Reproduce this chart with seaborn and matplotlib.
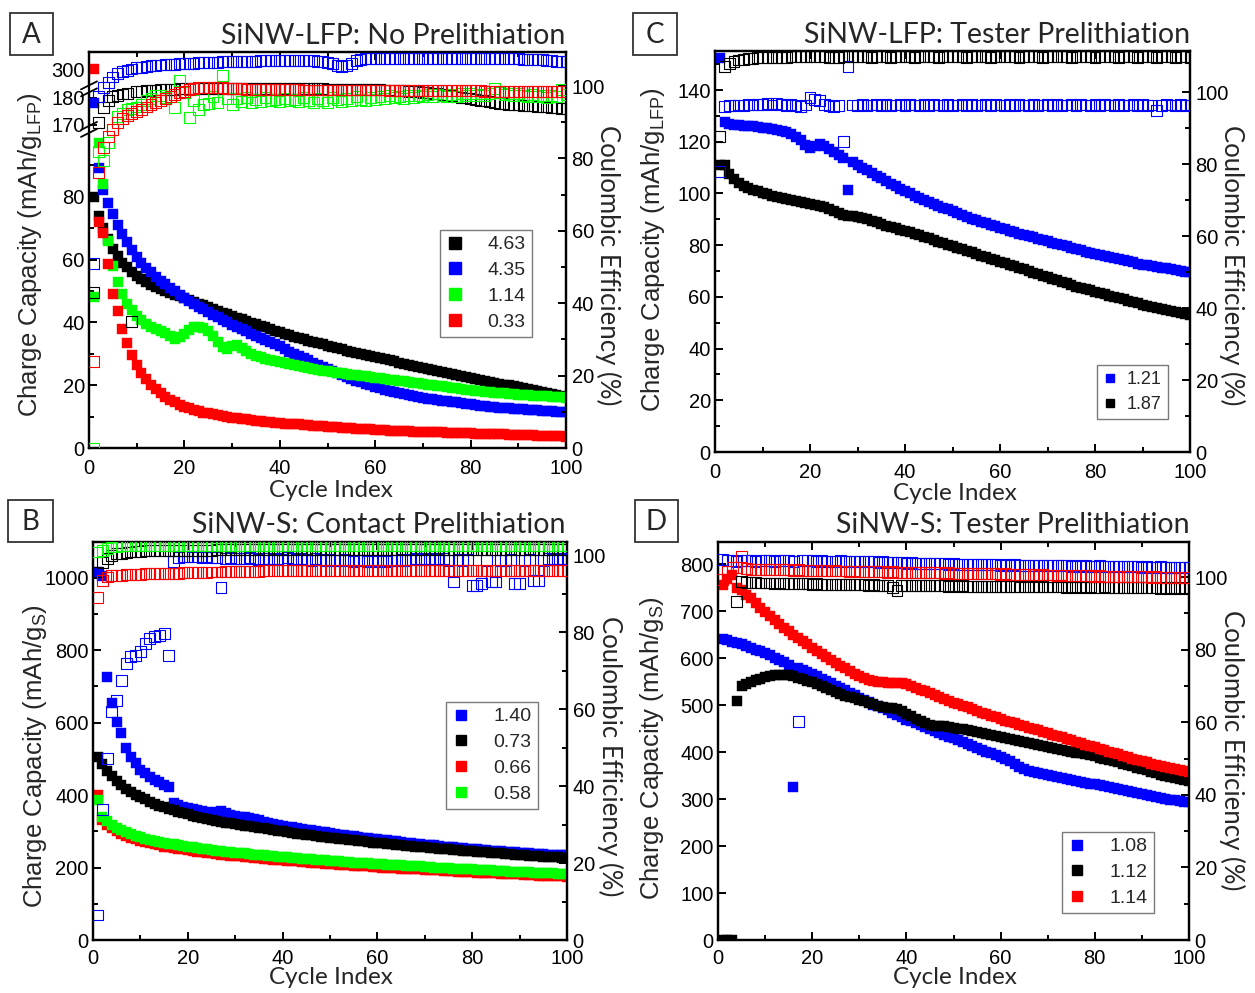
import numpy as np
import matplotlib
matplotlib.use("Agg")
import matplotlib.pyplot as plt
from matplotlib.lines import Line2D
from matplotlib.patches import Rectangle
from matplotlib.ticker import FixedLocator, FormatStrFormatter
import seaborn as sns

# ------------------------------------------------------------------ data
cycle_major = [0, 20, 40, 60, 80, 100]
cycle_minor = [10, 30, 50, 70, 90]

# Panel A: SiNW-LFP, no prelithiation (capacity in mAh/g_LFP, CE in %)
a_labels = ["4.63", "4.35", "1.14", "0.33"]
a_cap_463 = [
    80, 74, 70, 66.5, 63.5, 61, 59, 57.5, 56, 54.8,
    53.8, 52.9, 52.0, 51.2, 50.5, 49.9, 49.3, 48.8, 48.3, 47.8,
    47.2, 46.6, 46.0, 45.4, 44.8, 44.2, 43.6, 43.1, 42.6, 42.1,
    41.5, 41.0, 40.4, 39.9, 39.4, 38.9, 38.4, 37.9, 37.4, 36.9,
    36.4, 35.9, 35.4, 35.0, 34.6, 34.2, 33.8, 33.4, 33.0, 32.6,
    32.2, 31.8, 31.4, 31.0, 30.6, 30.3, 29.9, 29.6, 29.3, 29.0,
    28.6, 28.3, 27.9, 27.6, 27.2, 26.9, 26.5, 26.2, 25.8, 25.5,
    25.1, 24.8, 24.4, 24.1, 23.8, 23.5, 23.2, 22.9, 22.6, 22.3,
    22.0, 21.7, 21.4, 21.1, 20.8, 20.5, 20.2, 19.9, 19.6, 19.3,
    19.0, 18.7, 18.4, 18.1, 17.8, 17.5, 17.2, 16.9, 16.6, 16.3]
a_cap_435 = [
    178, 89, 82, 78, 74.5, 71, 68, 65.5, 63, 60.8,
    59.0, 57.4, 56.0, 54.6, 53.3, 52.1, 51.0, 49.9, 48.8, 47.8,
    46.8, 45.9, 45.0, 44.1, 43.2, 42.4, 41.6, 40.8, 40.0, 39.2,
    38.5, 37.8, 37.1, 36.4, 35.7, 35.0, 34.4, 33.8, 33.2, 32.6,
    31.4, 30.7, 30.0, 29.3, 28.6, 27.9, 27.2, 26.5, 25.8, 25.1,
    24.5, 23.8, 23.2, 22.6, 22.0, 21.4, 20.9, 20.4, 19.9, 19.4,
    19.0, 18.6, 18.2, 17.8, 17.5, 17.2, 16.9, 16.6, 16.3, 16.0,
    15.7, 15.5, 15.3, 15.1, 14.9, 14.7, 14.5, 14.3, 14.1, 13.9,
    13.7, 13.5, 13.3, 13.1, 12.9, 12.8, 12.7, 12.6, 12.5, 12.4,
    12.3, 12.2, 12.1, 12.0, 11.9, 11.8, 11.7, 11.6, 11.5, 11.4]
a_cap_114 = [
    48, 97, 84, 66, 58, 53, 49, 46, 43.8, 42,
    40.7, 39.6, 38.6, 37.8, 37.2, 36.6, 35.8, 34.8, 35.2, 36.4,
    37.6, 38.4, 38.6, 38.2, 37.2, 35.6, 33.8, 32.2, 31.4, 32.6,
    32.8, 31.8, 30.8, 30.0, 29.4, 28.9, 28.4, 28.0, 27.6, 27.3,
    27.0, 26.7, 26.4, 26.1, 25.8, 25.5, 25.2, 24.9, 24.6, 24.4,
    24.2, 24.0, 23.8, 23.6, 23.4, 23.2, 23.0, 22.8, 22.6, 22.4,
    22.2, 22.0, 21.8, 21.6, 21.4, 21.2, 21.0, 20.8, 20.6, 20.4,
    20.2, 20.0, 19.8, 19.6, 19.4, 19.2, 19.0, 18.8, 18.6, 18.4,
    18.2, 18.0, 17.9, 17.8, 17.6, 17.5, 17.4, 17.2, 17.1, 17.0,
    16.9, 16.8, 16.7, 16.6, 16.5, 16.4, 16.3, 16.2, 16.1, 16.0]
a_cap_033 = [
    300, 72, 68.5, 58.5, 49, 43.5, 38, 33.5, 29.5, 26.5,
    24.0, 22.0, 20.2, 18.7, 17.4, 16.3, 15.3, 14.5, 13.8, 13.2,
    12.6, 12.1, 11.7, 11.3, 11.0, 10.7, 10.4, 10.1, 9.9, 9.7,
    9.5, 9.3, 9.1, 8.9, 8.7, 8.5, 8.4, 8.2, 8.1, 8.0,
    7.8, 7.7, 7.6, 7.5, 7.3, 7.2, 7.1, 7.0, 6.9, 6.8,
    6.7, 6.6, 6.5, 6.4, 6.3, 6.2, 6.1, 6.0, 5.9, 5.8,
    5.7, 5.6, 5.5, 5.45, 5.4, 5.35, 5.3, 5.25, 5.2, 5.15,
    5.1, 5.05, 5.0, 4.95, 4.9, 4.85, 4.8, 4.75, 4.7, 4.65,
    4.6, 4.55, 4.5, 4.45, 4.4, 4.35, 4.3, 4.25, 4.2, 4.15,
    4.1, 4.05, 4.0, 3.95, 3.9, 3.85, 3.8, 3.75, 3.7, 3.65]
a_ce_463 = [
    43, 90, 94, 96, 97, 97.5, 97.8, 98, 35, 98.4,
    98.6, 98.7, 98.8, 98.9, 99.0, 99.0, 99.1, 99.1, 99.2, 99.2,
    99.2, 99.3, 99.3, 99.3, 99.3, 99.3, 99.3, 99.3, 99.3, 99.3,
    99.3, 99.3, 99.3, 99.3, 99.3, 99.3, 99.3, 99.3, 99.3, 99.3,
    99.3, 99.3, 99.2, 99.2, 99.2, 99.2, 99.2, 99.2, 99.2, 99.1,
    99.1, 99.1, 99.1, 99.1, 99.1, 99.0, 99.0, 99.0, 99.0, 99.0,
    99.0, 98.9, 98.9, 98.8, 98.8, 98.7, 98.6, 98.5, 98.4, 98.3,
    98.2, 98.0, 97.9, 97.7, 97.5, 97.3, 97.1, 96.9, 96.7, 96.5,
    96.3, 96.1, 95.9, 95.7, 95.5, 95.3, 95.2, 95.0, 94.9, 94.8,
    94.7, 94.6, 94.5, 94.4, 94.3, 94.2, 94.1, 94.0, 93.9, 93.8]
a_ce_435 = [
    51, 97, 99.5, 101, 102.5, 103.5, 104, 104.4, 104.7, 105,
    105.2, 105.4, 105.6, 105.7, 105.8, 105.9, 106.0, 106.0, 106.1, 106.1,
    106.2, 106.3, 106.4, 106.5, 106.5, 106.6, 106.6, 106.7, 106.7, 106.8,
    106.8, 106.8, 106.9, 106.9, 106.9, 107.0, 107.0, 107.0, 107.0, 107.0,
    107.0, 107.0, 107.0, 107.0, 107.0, 107.0, 107.0, 106.9, 106.8, 106.5,
    106.1, 105.7, 105.5, 105.6, 106.2, 107.0, 107.4, 107.5, 107.6, 107.6,
    107.6, 107.6, 107.6, 107.6, 107.6, 107.6, 107.6, 107.6, 107.6, 107.6,
    107.6, 107.6, 107.6, 107.6, 107.6, 107.6, 107.6, 107.6, 107.6, 107.6,
    107.6, 107.6, 107.6, 107.5, 107.5, 107.5, 107.5, 107.5, 107.5, 107.5,
    107.4, 107.4, 107.3, 107.3, 107.2, 107.1, 107.0, 106.9, 106.8, 106.7]
a_ce_114 = [
    0, 82, 79.5, 84.5, 88, 91.5, 92.5, 93.4, 93.8, 94.2,
    95.0, 96.0, 96.5, 97.3, 97.5, 96.8, 97.0, 94.0, 101.6, 98.3,
    91.4, 96.0, 93.4, 95.0, 95.3, 97.0, 95.5, 103.0, 96.5, 95.0,
    96.5, 95.8, 96.8, 95.5, 96.2, 95.6, 96.9, 95.9, 96.4, 95.7,
    96.6, 95.9, 96.3, 95.6, 96.8, 96.0, 95.4, 96.5, 96.1, 95.5,
    96.9, 96.2, 95.8, 96.6, 96.0, 97.1, 96.4, 95.9, 96.8, 96.3,
    97.0, 96.5, 97.3, 96.8, 97.2, 96.6, 97.5, 96.9, 97.4, 97.0,
    97.6, 97.1, 97.8, 97.3, 97.0, 97.7, 97.2, 97.9, 97.4, 98.0,
    97.5, 97.8, 97.3, 97.9, 99.4, 98.2, 97.6, 98.0, 97.4, 97.9,
    97.5, 97.1, 97.6, 97.0, 97.4, 96.9, 97.3, 97.0, 99.0, 97.6]
a_ce_033 = [
    24, 76, 83, 86, 88, 90, 91, 91.8, 92.5, 93,
    93.6, 94.2, 94.8, 95.4, 96.0, 96.6, 97.2, 97.7, 98.2, 98.6,
    99.0, 99.3, 99.5, 99.6, 99.7, 99.7, 99.6, 99.5, 99.4, 99.3,
    99.2, 99.2, 99.1, 99.1, 99.1, 99.1, 99.0, 99.0, 99.0, 99.0,
    99.0, 99.0, 99.0, 99.0, 98.9, 98.9, 98.9, 98.9, 98.9, 98.9,
    98.9, 98.9, 98.9, 98.9, 98.9, 98.9, 98.9, 98.9, 98.9, 98.9,
    98.9, 98.9, 98.8, 98.8, 98.8, 98.8, 98.8, 98.8, 98.8, 98.8,
    98.8, 98.8, 98.8, 98.7, 98.7, 98.7, 98.7, 98.7, 98.7, 98.7,
    98.7, 98.7, 98.6, 98.6, 98.6, 98.6, 98.6, 98.6, 98.6, 98.6,
    98.6, 98.5, 98.5, 98.5, 98.5, 98.5, 98.5, 98.5, 98.5, 98.5]

# Panel B: SiNW-S, contact prelithiation (capacity in mAh/g_S)
b_labels = ["1.40", "0.73", "0.66", "0.58"]
b_cap_140 = [
    1017, 1005, 727, 655, 603, 571, 530, 505, 488, 470,
    460, 451, 443, 436, 429, 423, 377, 372, 368, 365,
    362, 359, 356, 354, 351, 354, 356, 350, 345, 342,
    340, 339, 337, 333, 330, 327, 324, 321, 318, 316,
    313, 311, 309, 307, 305, 303, 301, 299, 297, 295,
    293, 291, 289, 288, 286, 284, 282, 281, 279, 278,
    276, 275, 273, 272, 270, 269, 267, 266, 264, 263,
    262, 261, 259, 258, 257, 256, 254, 253, 252, 251,
    250, 249, 248, 247, 246, 245, 244, 243, 242, 241,
    240, 239, 238, 238, 237, 236, 236, 235, 235, 234]
b_cap_073 = [
    506, 485, 467, 452, 440, 428, 418, 409, 401, 394,
    388, 382, 376, 371, 366, 362, 358, 354, 350, 347,
    343, 340, 337, 334, 331, 329, 326, 324, 322, 320,
    318, 316, 314, 312, 310, 308, 306, 304, 302, 300,
    298, 296, 294, 292, 290, 289, 287, 285, 284, 282,
    281, 279, 278, 276, 275, 273, 272, 271, 269, 268,
    267, 265, 264, 263, 262, 260, 259, 258, 257, 256,
    255, 254, 252, 251, 250, 249, 248, 247, 246, 245,
    244, 243, 242, 241, 240, 239, 238, 237, 236, 235,
    234, 233, 232, 231, 230, 229, 228, 228, 227, 226]
b_cap_066 = [
    400, 332, 318, 308, 300, 293, 287, 282, 278, 274,
    270, 267, 264, 261, 258, 256, 254, 252, 250, 248,
    246, 244, 242, 241, 239, 238, 236, 235, 233, 232,
    231, 229, 228, 227, 226, 225, 224, 222, 221, 220,
    219, 218, 217, 216, 215, 214, 213, 212, 211, 210,
    209, 208, 207, 206, 205, 205, 204, 203, 202, 201,
    200, 200, 199, 198, 197, 197, 196, 195, 195, 194,
    193, 192, 192, 191, 190, 190, 189, 188, 188, 187,
    186, 186, 185, 184, 184, 183, 183, 182, 181, 181,
    180, 180, 179, 178, 178, 177, 177, 176, 176, 175]
b_cap_058 = [
    387, 340, 328, 318, 310, 303, 297, 292, 288, 284,
    280, 277, 274, 271, 268, 266, 264, 262, 260, 258,
    256, 254, 252, 250, 249, 247, 246, 244, 243, 241,
    240, 239, 237, 236, 235, 234, 233, 231, 230, 229,
    228, 227, 226, 225, 224, 223, 222, 221, 220, 219,
    218, 217, 216, 215, 214, 213, 212, 212, 211, 210,
    209, 208, 207, 207, 206, 205, 204, 203, 203, 202,
    201, 200, 200, 199, 198, 197, 197, 196, 195, 195,
    194, 193, 193, 192, 191, 191, 190, 189, 189, 188,
    187, 187, 186, 186, 185, 184, 184, 183, 183, 182]
b_ce_140 = [
    6.5, 33.8, 47.2, 59.3, 62.3, 67.5, 71.9, 73.6, 74.0, 74.9,
    77.1, 78.4, 78.8, 79.2, 79.7, 74.0, 98.3, 99.3, 99.6, 99.6,
    99.5, 99.6, 99.4, 99.5, 99.3, 99.4, 91.7, 99.2, 99.3, 99.1,
    99.2, 99.0, 99.3, 99.1, 98.9, 99.2, 99.0, 98.8, 99.1, 98.9,
    99.3, 99.0, 98.8, 99.1, 98.9, 98.7, 99.0, 98.8, 98.6, 98.9,
    98.7, 98.5, 98.8, 98.6, 98.4, 98.7, 98.5, 98.3, 98.6, 98.4,
    98.6, 98.4, 98.7, 98.5, 98.8, 98.6, 98.9, 99.1, 98.8, 99.0,
    98.8, 99.1, 98.9, 99.0, 98.7, 93.0, 98.9, 98.6, 98.8, 92.2,
    92.2, 92.7, 98.5, 93.1, 93.0, 98.7, 98.5, 98.8, 92.7, 92.5,
    98.6, 98.8, 93.5, 93.3, 98.7, 99.0, 98.8, 99.1, 98.9, 99.0]
b_ce_073 = [
    95.6, 98.0, 99.2, 100.0, 100.3, 100.5, 100.7, 100.8, 100.9, 101.0,
    101.1, 101.1, 101.2, 101.2, 101.2, 101.3, 101.3, 101.3, 101.3, 101.3,
    101.3, 101.3, 101.3, 101.3, 101.3, 101.4, 101.4, 101.4, 101.4, 101.4,
    101.4, 101.4, 101.4, 101.4, 101.4, 101.4, 101.4, 101.4, 101.4, 101.4,
    101.4, 101.4, 101.4, 101.4, 101.4, 101.4, 101.4, 101.4, 101.4, 101.4,
    101.4, 101.4, 101.4, 101.4, 101.4, 101.4, 101.4, 101.4, 101.4, 101.4,
    101.4, 101.4, 101.4, 101.4, 101.4, 101.4, 101.4, 101.4, 101.4, 101.4,
    101.4, 101.4, 101.4, 101.4, 101.4, 101.4, 101.4, 101.4, 101.4, 101.4,
    101.4, 101.4, 101.4, 101.4, 101.4, 101.4, 101.4, 101.4, 101.4, 101.4,
    101.4, 101.4, 101.4, 101.4, 101.4, 101.4, 101.4, 101.4, 101.4, 101.4]
b_ce_066 = [
    89.0, 93.5, 94.3, 94.6, 94.8, 94.8, 94.9, 94.9, 95.0, 95.0,
    95.1, 95.1, 95.2, 95.2, 95.2, 95.3, 95.3, 95.3, 95.4, 95.4,
    95.4, 95.5, 95.5, 95.5, 95.6, 95.6, 95.6, 95.7, 95.7, 95.7,
    95.8, 95.8, 95.8, 95.8, 95.8, 95.9, 95.9, 95.9, 95.9, 95.9,
    95.9, 95.9, 96.0, 96.0, 96.0, 96.0, 96.0, 96.0, 96.0, 96.0,
    96.0, 96.0, 96.0, 96.0, 96.0, 96.0, 96.0, 96.0, 96.0, 96.0,
    96.0, 96.0, 96.0, 96.0, 96.0, 96.0, 96.0, 96.0, 96.0, 96.0,
    96.0, 96.0, 96.0, 96.0, 96.0, 96.0, 96.0, 96.0, 96.0, 96.0,
    96.0, 96.0, 96.0, 96.0, 96.0, 96.0, 96.0, 96.0, 96.0, 96.0,
    96.0, 96.0, 96.0, 96.0, 96.0, 96.0, 96.0, 96.0, 96.0, 96.0]
b_ce_058 = [
    100.8, 101.3, 101.8, 102.1, 102.3, 102.4, 102.5, 102.5, 102.6, 102.6,
    102.6, 102.6, 102.6, 102.6, 102.6, 102.6, 102.6, 102.6, 102.6, 102.6,
    102.6, 102.6, 102.6, 102.6, 102.6, 102.6, 102.6, 102.6, 102.6, 102.6,
    102.6, 102.6, 102.6, 102.6, 102.6, 102.6, 102.6, 102.6, 102.6, 102.6,
    102.6, 102.6, 102.6, 102.6, 102.6, 102.6, 102.6, 102.6, 102.6, 102.6,
    102.6, 102.6, 102.6, 102.6, 102.6, 102.6, 102.6, 102.6, 102.6, 102.6,
    102.6, 102.6, 102.6, 102.6, 102.6, 102.6, 102.6, 102.6, 102.6, 102.6,
    102.6, 102.6, 102.6, 102.6, 102.6, 102.6, 102.6, 102.6, 102.6, 102.6,
    102.6, 102.6, 102.6, 102.6, 102.6, 102.6, 102.6, 102.6, 102.6, 102.6,
    102.6, 102.6, 102.6, 102.6, 102.6, 102.6, 102.6, 102.6, 102.6, 102.6]

# Panel C: SiNW-LFP, tester prelithiation
c_labels = ["1.21", "1.87"]
c_cap_121 = [
    152.5, 127.5, 126.8, 126.6, 126.4, 126.2, 126.0, 125.9, 125.7, 125.5,
    125.3, 125.0, 124.7, 124.3, 123.8, 123.0, 122.0, 120.6, 118.8, 117.5,
    118.3, 119.0, 118.2, 117.2, 116.0, 114.8, 113.8, 101.4, 112.0, 111.0,
    110.0, 109.0, 107.8, 106.8, 105.8, 104.8, 103.8, 102.8, 101.9, 101.0,
    100.1, 99.2, 98.4, 97.6, 96.8, 96.0, 95.2, 94.5, 93.8, 93.1,
    92.4, 91.7, 91.0, 90.3, 89.7, 89.1, 88.5, 87.9, 87.3, 86.7,
    86.1, 85.5, 85.0, 84.5, 84.0, 83.5, 83.0, 82.5, 82.0, 81.5,
    81.0, 80.5, 80.0, 79.5, 79.0, 78.5, 78.0, 77.5, 77.0, 76.5,
    76.1, 75.7, 75.3, 74.9, 74.5, 74.1, 73.7, 73.3, 72.9, 72.5,
    72.2, 71.9, 71.6, 71.3, 71.0, 70.7, 70.4, 70.1, 69.8, 69.5]
c_cap_187 = [
    111.0, 111.0, 107.5, 105.5, 104.0, 103.0, 102.2, 101.5, 100.8, 100.2,
    99.7, 99.2, 98.8, 98.4, 98.0, 97.6, 97.2, 96.8, 96.4, 96.0,
    95.6, 95.2, 94.6, 94.0, 93.2, 92.4, 91.8, 91.4, 91.2, 91.0,
    90.5, 90.0, 89.4, 88.8, 88.2, 87.6, 87.0, 86.5, 86.0, 85.5,
    85.0, 84.4, 83.8, 83.2, 82.6, 82.0, 81.4, 80.8, 80.2, 79.6,
    79.0, 78.4, 77.8, 77.2, 76.6, 76.0, 75.4, 74.8, 74.2, 73.6,
    73.0, 72.4, 71.8, 71.2, 70.6, 70.0, 69.4, 68.8, 68.2, 67.6,
    67.0, 66.4, 65.8, 65.2, 64.6, 64.0, 63.5, 63.0, 62.5, 62.0,
    61.5, 61.0, 60.5, 60.0, 59.5, 59.0, 58.5, 58.0, 57.5, 57.0,
    56.6, 56.2, 55.8, 55.4, 55.0, 54.6, 54.2, 53.8, 53.4, 53.0]
c_ce_121 = [
    77.8, 96.0, 96.2, 96.3, 96.4, 96.3, 96.5, 96.4, 96.6, 96.5,
    96.7, 96.4, 96.8, 96.5, 96.3, 96.6, 96.2, 95.9, 96.4, 98.6,
    97.8, 97.6, 96.5, 96.2, 96.0, 96.3, 86.2, 107.0, 96.4, 96.3,
    96.5, 96.2, 96.4, 96.6, 96.3, 96.5, 96.2, 96.4, 96.5, 96.3,
    96.6, 96.4, 96.2, 96.5, 96.3, 96.6, 96.4, 96.2, 96.5, 96.3,
    96.4, 96.6, 96.3, 96.5, 96.2, 96.4, 96.6, 96.3, 96.5, 96.4,
    96.2, 96.5, 96.3, 96.6, 96.4, 96.2, 96.5, 96.3, 96.4, 96.6,
    96.3, 96.5, 96.2, 96.4, 96.6, 96.3, 96.5, 96.4, 96.2, 96.5,
    96.3, 96.6, 96.4, 96.2, 96.5, 96.3, 96.4, 96.6, 96.3, 96.5,
    96.2, 96.4, 95.0, 96.3, 96.5, 96.4, 96.2, 96.5, 96.3, 96.4]
c_ce_187 = [
    87.6, 107.0, 108.0, 108.5, 108.9, 109.1, 109.3, 109.4, 109.5, 109.6,
    109.6, 109.7, 109.7, 109.7, 109.7, 109.8, 109.8, 109.8, 109.8, 109.8,
    109.9, 109.9, 109.8, 109.7, 109.6, 109.7, 109.8, 109.8, 109.8, 109.8,
    109.8, 109.8, 109.7, 109.8, 109.8, 109.8, 109.7, 109.8, 109.8, 109.8,
    109.8, 109.7, 109.8, 109.8, 109.8, 109.8, 109.7, 109.8, 109.8, 109.8,
    109.8, 109.8, 109.7, 109.8, 109.8, 109.8, 109.8, 109.7, 109.8, 109.8,
    109.8, 109.8, 109.8, 109.7, 109.8, 109.8, 109.8, 109.8, 109.7, 109.8,
    109.8, 109.8, 109.8, 109.8, 109.7, 109.8, 109.8, 109.8, 109.8, 109.7,
    109.8, 109.8, 109.8, 109.8, 109.7, 109.8, 109.8, 109.8, 109.7, 109.8,
    109.8, 109.8, 109.7, 109.8, 109.8, 109.8, 109.7, 109.8, 109.8, 109.7]

# Panel D: SiNW-S, tester prelithiation
d_labels = ["1.08", "1.12", "1.14"]
d_cap_108 = [
    640, 638, 635, 632, 629, 626, 622, 618, 614, 610,
    606, 601, 596, 591, 586, 325, 578, 574, 570, 566,
    561, 556, 551, 546, 541, 536, 531, 526, 521, 516,
    511, 506, 501, 497, 493, 489, 484, 479, 474, 469,
    465, 461, 457, 453, 449, 445, 441, 437, 433, 429,
    425, 421, 417, 413, 409, 405, 401, 397, 393, 389,
    385, 380, 375, 369, 364, 360, 357, 355, 353, 351,
    349, 347, 345, 343, 341, 339, 337, 335, 333, 331,
    329, 327, 325, 323, 321, 319, 317, 315, 313, 311,
    309, 307, 305, 303, 301, 299, 297, 295, 294, 293]
d_cap_112 = [
    0, 0, 0, 508, 541, 545, 549, 553, 556, 559,
    561, 563, 564, 564, 563, 561, 558, 555, 552, 548,
    544, 540, 536, 532, 528, 524, 520, 517, 514, 511,
    508, 505, 502, 499, 496, 494, 493, 492, 488, 482,
    476, 471, 466, 462, 458, 456, 455, 455, 454, 452,
    450, 448, 446, 444, 442, 440, 438, 436, 434, 432,
    430, 428, 426, 424, 421, 419, 417, 415, 413, 411,
    409, 407, 405, 403, 401, 399, 397, 395, 393, 391,
    388, 386, 383, 381, 378, 375, 372, 370, 367, 364,
    361, 358, 355, 352, 350, 347, 345, 342, 340, 338]
d_cap_114 = [
    756, 768, 776, 750, 745, 735, 727, 718, 707, 698,
    690, 681, 673, 665, 657, 650, 643, 636, 629, 622,
    615, 608, 602, 596, 590, 584, 578, 572, 566, 561,
    557, 554, 551, 549, 548, 547, 547, 546, 546, 545,
    541, 537, 533, 529, 525, 521, 517, 513, 509, 505,
    502, 498, 495, 491, 488, 484, 481, 477, 474, 470,
    467, 464, 461, 458, 455, 452, 449, 446, 443, 440,
    437, 434, 431, 428, 425, 422, 419, 416, 413, 410,
    407, 404, 401, 398, 395, 392, 389, 386, 383, 380,
    378, 375, 373, 370, 368, 366, 364, 362, 360, 358]
d_ce_108 = [
    104.8, 104.5, 104.5, 104.4, 104.5, 104.6, 104.5, 104.4, 104.5, 104.6,
    104.5, 104.4, 104.5, 104.6, 104.5, 104.4, 60.1, 104.5, 104.6, 104.5,
    104.4, 104.5, 104.4, 104.3, 104.4, 104.5, 104.4, 104.3, 104.4, 104.3,
    104.2, 104.3, 104.2, 104.1, 104.2, 104.1, 104.0, 104.1, 104.0, 103.9,
    104.0, 103.9, 103.8, 103.9, 103.8, 103.7, 103.8, 103.7, 103.6, 103.7,
    103.6, 103.5, 103.6, 103.5, 103.4, 103.5, 103.4, 103.5, 103.4, 103.3,
    103.4, 103.3, 103.4, 103.3, 103.2, 103.3, 103.2, 103.3, 103.2, 103.1,
    103.2, 103.1, 103.2, 103.1, 103.0, 103.1, 103.0, 103.1, 103.0, 103.0,
    103.1, 103.0, 103.0, 102.9, 103.0, 102.9, 102.9, 103.0, 102.9, 102.8,
    102.9, 102.8, 102.8, 102.9, 102.8, 102.7, 102.8, 102.7, 102.7, 102.6]
d_ce_112 = [
    np.nan, np.nan, np.nan, 93.3, 98.9, 98.6, 98.5, 98.5, 98.4, 98.4,
    98.4, 98.3, 98.4, 98.3, 98.3, 98.2, 98.3, 98.2, 98.2, 98.1,
    98.2, 98.1, 98.1, 98.0, 98.1, 98.0, 98.0, 97.9, 98.0, 97.9,
    97.9, 97.8, 97.9, 97.8, 97.8, 97.7, 97.2, 96.4, 97.6, 97.8,
    97.7, 97.8, 97.7, 97.6, 97.7, 97.6, 97.7, 97.6, 97.5, 97.6,
    97.5, 97.6, 97.5, 97.4, 97.5, 97.4, 97.5, 97.4, 97.5, 97.4,
    97.4, 97.5, 97.4, 97.3, 97.4, 97.3, 97.4, 97.3, 97.4, 97.3,
    97.3, 97.4, 97.3, 97.2, 97.3, 97.2, 97.3, 97.2, 97.3, 97.2,
    97.2, 97.3, 97.2, 97.1, 97.2, 97.1, 97.2, 97.1, 97.2, 97.1,
    97.1, 97.2, 97.1, 97.0, 97.1, 97.0, 97.1, 97.0, 97.1, 97.0]
d_ce_114 = [
    99.3, 101.5, 102.8, 102.6, 105.7, 102.3, 102.2, 102.2, 102.1, 102.1,
    102.1, 102.0, 102.1, 102.0, 102.0, 101.9, 102.0, 101.9, 101.9, 101.8,
    101.9, 101.8, 101.8, 101.7, 101.8, 101.7, 101.7, 101.6, 101.7, 101.6,
    101.6, 101.5, 101.6, 101.5, 101.5, 101.4, 101.5, 101.4, 101.4, 101.3,
    101.4, 101.3, 101.3, 101.2, 101.3, 101.2, 101.2, 101.1, 101.2, 101.1,
    101.1, 101.0, 101.1, 101.0, 101.0, 100.9, 101.0, 100.9, 100.9, 100.8,
    100.9, 100.8, 100.8, 100.7, 100.8, 100.7, 100.7, 100.6, 100.7, 100.6,
    100.6, 100.5, 100.6, 100.5, 100.5, 100.4, 100.5, 100.4, 100.4, 100.3,
    100.4, 100.3, 100.3, 100.2, 100.3, 100.2, 100.2, 100.1, 100.2, 100.1,
    100.1, 100.0, 100.1, 100.0, 100.0, 99.9, 100.0, 99.9, 99.9, 99.8]

# ------------------------------------------------------------------ style
BLACK, BLUE, GREEN, RED = "#000000", "#0000ff", "#00ff00", "#ff0000"
SANS = ["Liberation Sans", "DejaVu Sans"]
HUMANIST = ["Lato", "DejaVu Sans"]

sns.set_theme(style="ticks")
plt.rcParams["font.family"] = SANS
plt.rcParams["mathtext.fontset"] = "custom"
plt.rcParams["mathtext.rm"] = "Liberation Sans"
plt.rcParams["mathtext.it"] = "Liberation Sans:italic"
plt.rcParams["axes.linewidth"] = 1.6

W, H = 1255, 993
fig = plt.figure(figsize=(W / 100, H / 100), dpi=100)
fig.patch.set_facecolor("white")

TICK_FS = 14.5


def axes_px(x0, y0, x1, y1):
    return fig.add_axes([x0 / W, 1 - y1 / H, (x1 - x0) / W, (y1 - y0) / H])


def fig_text(x, y, s, **kw):
    return fig.text(x / W, 1 - y / H, s, **kw)


def draw_series(ax, ax2, caps, ces, colors):
    for y, c in zip(caps, colors):
        x = np.arange(1, len(y) + 1)
        sns.scatterplot(x=x, y=np.asarray(y, float), ax=ax, marker="s", s=52,
                        color=c, edgecolor=c, linewidth=0.3, legend=False,
                        zorder=3)
    for y, c in zip(ces, colors):
        x = np.arange(1, len(y) + 1)
        sns.scatterplot(x=x, y=np.asarray(y, float), ax=ax2, marker="s", s=62,
                        color=c, facecolors="none", edgecolor=c,
                        linewidth=0.8, legend=False, zorder=3)


def style_axes(ax, ax2, ce_lim, xpad):
    ax.set_xlim(0, 100)
    ax.xaxis.set_major_locator(FixedLocator(cycle_major))
    ax.xaxis.set_minor_locator(FixedLocator(cycle_minor))
    ax.set_xlabel("")
    ax.set_ylabel("")
    ax2.set_ylabel("")
    ax2.set_ylim(*ce_lim)
    ax2.yaxis.set_major_locator(FixedLocator([0, 20, 40, 60, 80, 100]))
    ax2.yaxis.set_minor_locator(FixedLocator([10, 30, 50, 70, 90]))
    for a in (ax, ax2):
        for sp in a.spines.values():
            sp.set_linewidth(1.6)
            sp.set_color("black")
        a.tick_params(which="both", direction="in", width=1.4, colors="black",
                      labelsize=TICK_FS)
        a.tick_params(which="major", length=6)
        a.tick_params(which="minor", length=3.5)
    ax.tick_params(axis="x", which="both", top=True, bottom=True, pad=xpad)
    ax.tick_params(axis="y", which="both", left=True, right=False, pad=3)
    ax2.tick_params(axis="y", which="both", right=True, left=False, pad=4)
    ax2.tick_params(axis="x", which="both", top=False, bottom=False,
                    labelbottom=False)
    ax.grid(False)
    ax2.grid(False)


def add_legend(ax2, labels, colors, x0, y0, ms, fs, **kw):
    handles = [Line2D([], [], ls="none", marker="s", ms=ms, mfc=c, mec=c)
               for c in colors]
    opts = dict(loc="upper left", bbox_to_anchor=(x0 / W, 1 - y0 / H),
                bbox_transform=fig.transFigure, frameon=True, fancybox=False,
                edgecolor="#7a7a7a", framealpha=1, fontsize=fs,
                borderaxespad=0, handlelength=0.9, handletextpad=1.25,
                labelspacing=0.42, borderpad=0.3)
    opts.update(kw)
    leg = ax2.legend(handles, labels, **opts)
    leg.get_frame().set_linewidth(1.0)
    leg.set_zorder(10)
    return leg


def panel_letter(x0, y0, x1, y1, letter):
    fig.patches.append(Rectangle((x0 / W, 1 - y1 / H), (x1 - x0) / W,
                                 (y1 - y0) / H, transform=fig.transFigure,
                                 fill=False, ec="#333333", lw=1.3))
    fig_text((x0 + x1) / 2, (y0 + y1) / 2 + 1, letter, ha="center",
             va="center", fontsize=20, family=HUMANIST)


def labels_for(x_ylab, y_ylab, x_rlab, y_rlab, x_xlab, y_xlab, x_title,
               y_title, title, ylab):
    fig_text(x_ylab, y_ylab, ylab, rotation=90, ha="center", va="center",
             fontsize=18.5, family=SANS)
    fig_text(x_rlab, y_rlab, "Coulombic Efficiency (%)", rotation=270,
             ha="center", va="center", fontsize=18.5, family=HUMANIST)
    fig_text(x_xlab, y_xlab, "Cycle Index", ha="center", va="center",
             fontsize=17.5, family=HUMANIST)
    fig_text(x_title, y_title, title, ha="right", va="baseline",
             fontsize=20.5, family=HUMANIST)


# ------------------------------------------------------------------ panel A
# left axis broken into 0-100, 170-183 and ~293+ segments
BRK_V = np.array([-1000.0, 0.0, 100.0, 170.0, 183.0, 293.0, 1000.0])
BRK_U = np.array([-3140.0, 0.0, 314.0, 323.0, 358.1, 360.0, 360.0 + 707 * 2.7])


def brk_fwd(v):
    return np.interp(v, BRK_V, BRK_U)


def brk_inv(u):
    return np.interp(u, BRK_U, BRK_V)


axA = axes_px(89, 52, 566, 448)
axA2 = axA.twinx()
colA = [BLACK, BLUE, GREEN, RED]
axA.set_yscale("function", functions=(brk_fwd, brk_inv))
draw_series(axA, axA2, [a_cap_463, a_cap_435, a_cap_114, a_cap_033],
            [a_ce_463, a_ce_435, a_ce_114, a_ce_033], colA)
style_axes(axA, axA2, (0, 109.4), 8)
axA.set_ylim(0, 306.3)
axA.yaxis.set_major_locator(FixedLocator([0, 20, 40, 60, 80, 170, 180, 300]))
axA.yaxis.set_minor_locator(FixedLocator([10, 30, 50, 70, 90]))
axA.yaxis.set_major_formatter(FormatStrFormatter("%d"))
# break marks on the left spine
for v in (135.0, 238.0):
    f = (brk_fwd(v) - brk_fwd(0)) / (brk_fwd(306.3) - brk_fwd(0))
    dx, dy, gap = 8 / 477, 4 / 396, 3.5 / 396
    axA.add_patch(Rectangle((-0.006, f - gap), 0.012, 2 * gap,
                            transform=axA.transAxes, fc="white", ec="none",
                            clip_on=False, zorder=20))
    for off in (-gap, gap):
        axA.plot([-dx, dx], [f + off - dy, f + off + dy], color="black",
                 lw=1.3, transform=axA.transAxes, clip_on=False, zorder=21)
add_legend(axA2, a_labels, colA, 440, 230, 8.5, 14)
labels_for(30, 255, 608, 265, 331, 490, 565, 44,
           "SiNW-LFP: No Prelithiation",
           r"Charge Capacity (mAh/g$_{\mathrm{LFP}}$)")
panel_letter(10, 13, 53, 55, "A")

# ------------------------------------------------------------------ panel B
axB = axes_px(93, 542, 567, 940)
axB2 = axB.twinx()
colB = [BLUE, BLACK, RED, GREEN]
draw_series(axB, axB2, [b_cap_140, b_cap_073, b_cap_066, b_cap_058],
            [b_ce_140, b_ce_073, b_ce_066, b_ce_058], colB)
style_axes(axB, axB2, (0, 103.4), 6.5)
axB.set_ylim(0, 1099)
axB.yaxis.set_major_locator(FixedLocator([0, 200, 400, 600, 800, 1000]))
axB.yaxis.set_minor_locator(FixedLocator([100, 300, 500, 700, 900]))
add_legend(axB2, b_labels, colB, 446, 702, 7.5, 14)
labels_for(35, 756, 610, 756, 331, 978, 565, 533,
           "SiNW-S: Contact Prelithiation",
           r"Charge Capacity (mAh/g$_{\mathrm{S}}$)")
panel_letter(8, 500, 53, 542, "B")

# ------------------------------------------------------------------ panel C
axC = axes_px(715, 51, 1190, 452)
axC2 = axC.twinx()
colC = [BLUE, BLACK]
draw_series(axC, axC2, [c_cap_121, c_cap_187], [c_ce_121, c_ce_187], colC)
style_axes(axC, axC2, (0, 111.4), 8)
axC.set_ylim(0, 155.1)
axC.yaxis.set_major_locator(FixedLocator([0, 20, 40, 60, 80, 100, 120, 140]))
axC.yaxis.set_minor_locator(FixedLocator([10, 30, 50, 70, 90, 110, 130, 150]))
add_legend(axC2, c_labels, colC, 1097, 365, 6, 13, borderpad=0.35,
           handletextpad=0.6, handlelength=0.7)
labels_for(653, 250, 1232, 265, 955, 493, 1190, 43,
           "SiNW-LFP: Tester Prelithiation",
           r"Charge Capacity (mAh/g$_{\mathrm{LFP}}$)")
panel_letter(633, 13, 677, 55, "C")

# ------------------------------------------------------------------ panel D
axD = axes_px(718, 542, 1189, 940)
axD2 = axD.twinx()
colD = [BLUE, BLACK, RED]
draw_series(axD, axD2, [d_cap_108, d_cap_112, d_cap_114],
            [d_ce_108, d_ce_112, d_ce_114], colD)
style_axes(axD, axD2, (0, 109.7), 6.5)
axD.set_ylim(0, 847)
axD.yaxis.set_major_locator(FixedLocator([0, 100, 200, 300, 400, 500, 600,
                                          700, 800]))
add_legend(axD2, d_labels, colD, 1062, 832, 7.5, 14)
labels_for(652, 748, 1232, 750, 955, 978, 1190, 533,
           "SiNW-S: Tester Prelithiation",
           r"Charge Capacity (mAh/g$_{\mathrm{S}}$)")
panel_letter(635, 500, 678, 542, "D")

fig.savefig("out.png", dpi=100, facecolor="white")
